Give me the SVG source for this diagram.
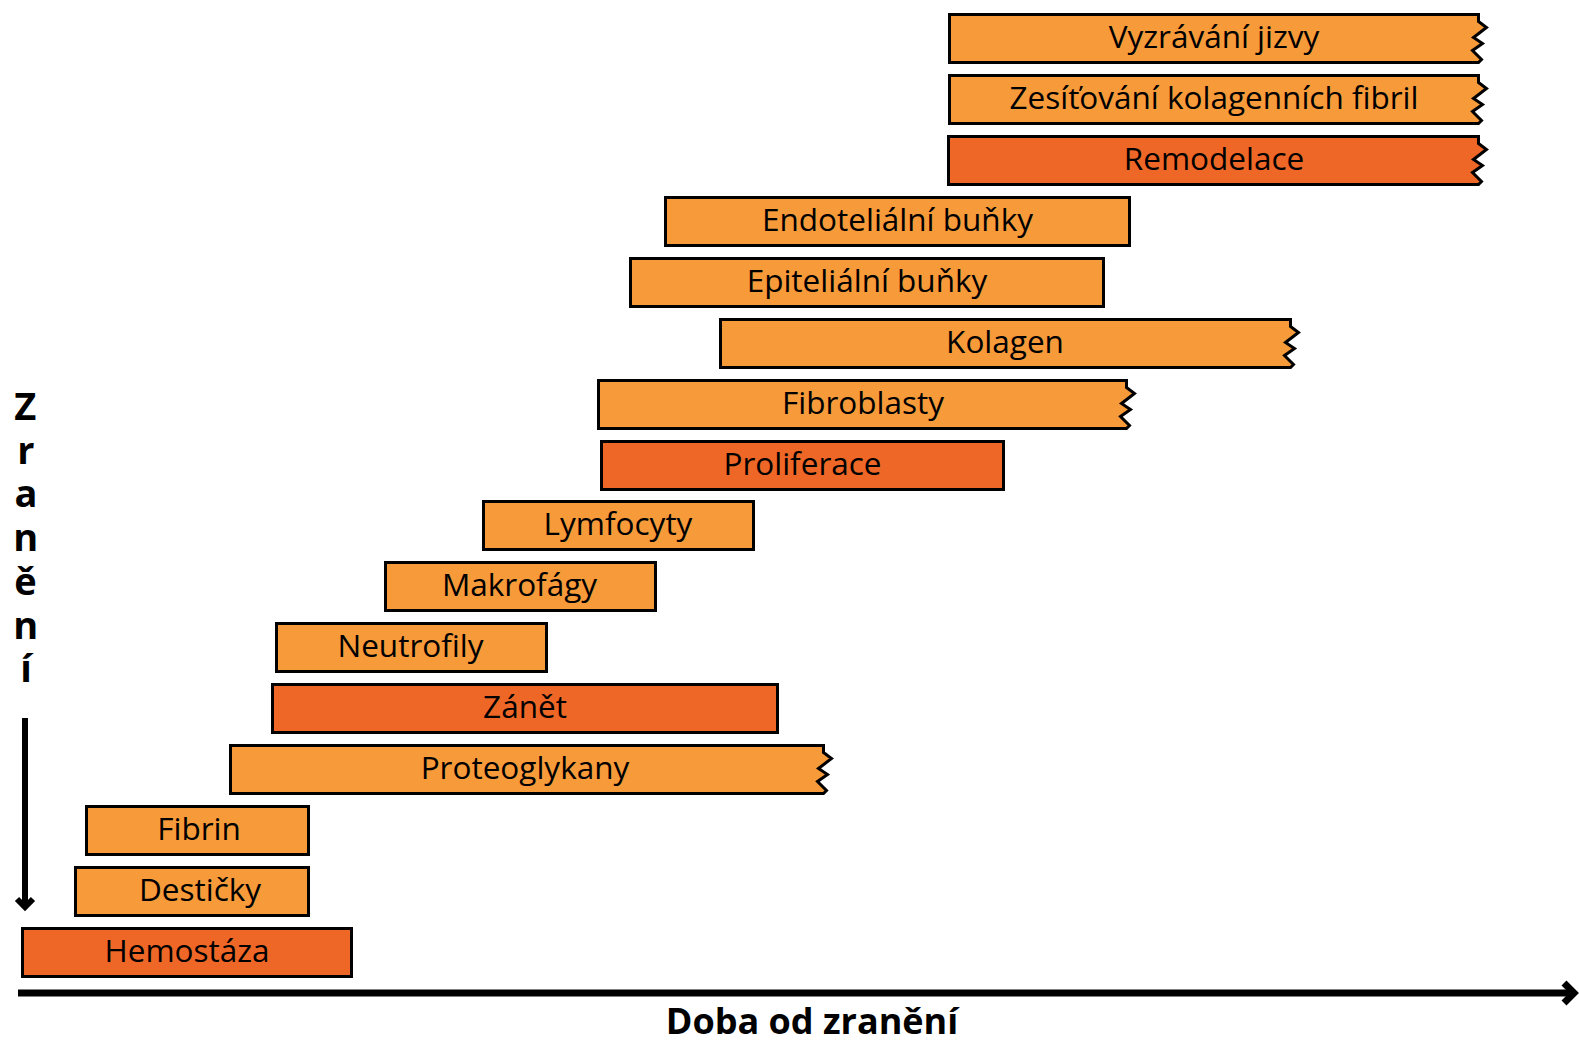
<svg xmlns="http://www.w3.org/2000/svg" width="1579" height="1042" viewBox="0 0 1579 1042">
<style>
.lt{fill:#F79A3A;stroke:#000;stroke-width:3;stroke-linejoin:miter}
.dk{fill:#EF6726;stroke:#000;stroke-width:3;stroke-linejoin:miter}
.t{font-family:"Open Sans","Noto Sans","DejaVu Sans",sans-serif;font-size:31.5px;fill:#000;text-anchor:middle}
.b{font-family:"Open Sans","Noto Sans","DejaVu Sans",sans-serif;font-weight:bold;fill:#000}
.ax{fill:none;stroke:#000;stroke-linejoin:miter}
</style>
<rect width="1579" height="1042" fill="#fff"/>
<g id="vyzravani"><path class="lt" d="M949.5,14.5 H1478.5 V21.5 L1486.5,27.5 L1473.5,37.5 L1482.5,43.5 L1472.5,50.5 L1481.5,59.5 L1478.5,62.5 H949.5 Z"/><text class="t" x="1214" y="48">Vyzrávání jizvy</text></g>
<g id="zesitovani"><path class="lt" d="M949.5,75.5 H1478.5 V82.5 L1486.5,88.5 L1473.5,98.5 L1482.5,104.5 L1472.5,111.5 L1481.5,120.5 L1478.5,123.5 H949.5 Z"/><text class="t" x="1214" y="109">Zesíťování kolagenních fibril</text></g>
<g id="remodelace"><path class="dk" d="M948.5,136.5 H1478.5 V143.5 L1486.5,149.5 L1473.5,159.5 L1482.5,165.5 L1472.5,172.5 L1481.5,181.5 L1478.5,184.5 H948.5 Z"/><text class="t" x="1214" y="170">Remodelace</text></g>
<g id="endotelialni"><rect class="lt" x="665.5" y="197.5" width="464" height="48"/><text class="t" x="897.5" y="231">Endoteliální buňky</text></g>
<g id="epitelialni"><rect class="lt" x="630.5" y="258.5" width="473" height="48"/><text class="t" x="867" y="292">Epiteliální buňky</text></g>
<g id="kolagen"><path class="lt" d="M720.5,319.5 H1290.5 V326.5 L1298.5,332.5 L1285.5,342.5 L1294.5,348.5 L1284.5,355.5 L1293.5,364.5 L1290.5,367.5 H720.5 Z"/><text class="t" x="1005" y="353">Kolagen</text></g>
<g id="fibroblasty"><path class="lt" d="M598.5,380.5 H1126.5 V387.5 L1134.5,393.5 L1121.5,403.5 L1130.5,409.5 L1120.5,416.5 L1129.5,425.5 L1126.5,428.5 H598.5 Z"/><text class="t" x="863" y="414">Fibroblasty</text></g>
<g id="proliferace"><rect class="dk" x="601.5" y="441.5" width="402" height="48"/><text class="t" x="802.5" y="475">Proliferace</text></g>
<g id="lymfocyty"><rect class="lt" x="483.5" y="501.5" width="270" height="48"/><text class="t" x="618" y="535">Lymfocyty</text></g>
<g id="makrofagy"><rect class="lt" x="385.5" y="562.5" width="270" height="48"/><text class="t" x="519.5" y="596">Makrofágy</text></g>
<g id="neutrofily"><rect class="lt" x="276.5" y="623.5" width="270" height="48"/><text class="t" x="410.5" y="657">Neutrofily</text></g>
<g id="zanet"><rect class="dk" x="272.5" y="684.5" width="505" height="48"/><text class="t" x="525" y="718">Zánět</text></g>
<g id="proteoglykany"><path class="lt" d="M230.5,745.5 H823.5 V752.5 L831.5,758.5 L818.5,768.5 L827.5,774.5 L817.5,781.5 L826.5,790.5 L823.5,793.5 H230.5 Z"/><text class="t" x="525" y="779">Proteoglykany</text></g>
<g id="fibrin"><rect class="lt" x="86.5" y="806.5" width="222" height="48"/><text class="t" x="199" y="840">Fibrin</text></g>
<g id="desticky"><rect class="lt" x="75.5" y="867.5" width="233" height="48"/><text class="t" x="200" y="901">Destičky</text></g>
<g id="hemostaza"><rect class="dk" x="22.5" y="928.5" width="329" height="48"/><text class="t" x="187" y="962">Hemostáza</text></g>
<g id="connectors">
<line class="ax" x1="18" y1="993" x2="1572" y2="993" stroke-width="7"/>
<polyline class="ax" points="1564,983 1574,993 1564,1003" stroke-width="7"/>
<line class="ax" x1="25" y1="718" x2="25" y2="906" stroke-width="6"/>
<polyline class="ax" points="17,899 25,907 33,899" stroke-width="6"/>
</g>
<text id="y-label" class="b" font-size="38" x="25" y="379" style="writing-mode:vertical-lr;text-orientation:upright" letter-spacing="-8.3">Zranění</text>
<text id="x-label" class="b" font-size="36" x="812" y="1034" text-anchor="middle">Doba od zranění</text>
</svg>
